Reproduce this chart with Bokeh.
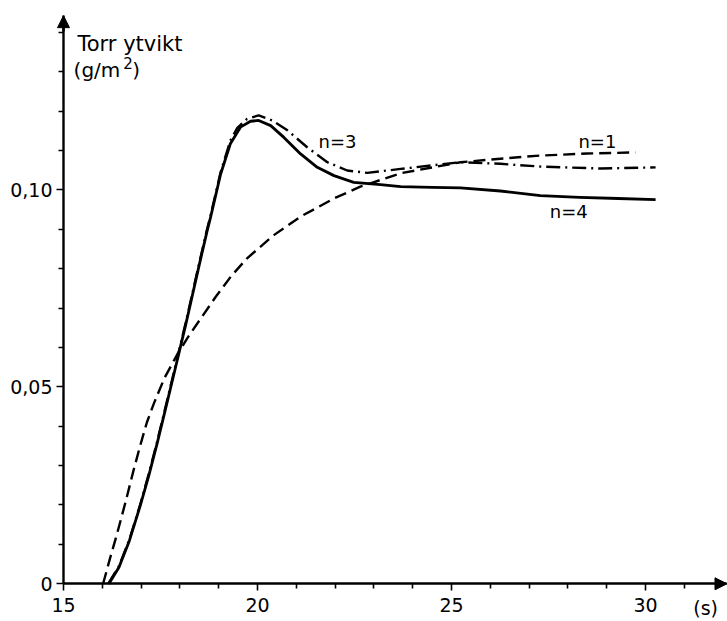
from bokeh.plotting import figure
from bokeh.models import Range1d, FixedTicker, Label, Arrow, NormalHead
from bokeh.embed import file_html
from bokeh.resources import INLINE

# ---- data ----
t_n1 = [16.02, 16.2, 16.38, 16.6, 16.8, 16.98, 17.15, 17.33, 17.6, 17.93, 18.2, 18.5,
        18.92, 19.33, 19.73, 20.42, 21.11, 21.97, 22.65, 23.69, 25.23, 26.26, 27.29,
        28.5, 29.74]
v_n1 = [0.0, 0.0065, 0.0127, 0.0208, 0.0286, 0.0352, 0.041, 0.0458, 0.0522, 0.0582,
        0.0625, 0.0668, 0.0728, 0.0782, 0.0826, 0.0885, 0.0932, 0.0978, 0.1008, 0.1042,
        0.107, 0.1079, 0.1087, 0.1092, 0.1095]

t_n3 = [16.15, 16.43, 16.7, 16.98, 17.2, 17.41, 17.62, 17.84, 17.99, 18.15, 18.3, 18.5,
        18.7, 18.79, 19.05, 19.3, 19.48, 19.73, 20.03, 20.38, 20.77, 21.28, 21.8, 22.31,
        22.83, 23.17, 23.69, 24.5, 25.23, 26.26, 27.29, 28.84, 30.26]
v_n3 = [0.0, 0.0045, 0.0113, 0.0202, 0.028, 0.036, 0.0445, 0.0535, 0.0597, 0.0663, 0.0728,
        0.0815, 0.09, 0.0935, 0.1045, 0.1125, 0.1157, 0.118, 0.1189, 0.1176, 0.1151, 0.1108,
        0.107, 0.1049, 0.1043, 0.1047, 0.1053, 0.1062, 0.107, 0.1066, 0.1059, 0.1054, 0.1057]

t_n4 = [16.17, 16.43, 16.7, 16.98, 17.2, 17.41, 17.62, 17.84, 17.99, 18.15, 18.3, 18.5,
        18.7, 18.79, 19.05, 19.3, 19.56, 19.82, 20.03, 20.34, 20.68, 21.11, 21.54, 21.97,
        22.48, 23.17, 23.69, 24.5, 25.23, 26.26, 27.29, 28.3, 29.3, 30.26]
v_n4 = [0.0, 0.0042, 0.011, 0.0199, 0.0275, 0.0355, 0.044, 0.053, 0.0592, 0.0658, 0.0723,
        0.081, 0.0895, 0.093, 0.104, 0.1117, 0.1159, 0.1174, 0.1176, 0.1163, 0.1133, 0.1091,
        0.1057, 0.1036, 0.1019, 0.1013, 0.1008, 0.1006, 0.1005, 0.0997, 0.0985, 0.0981,
        0.0978, 0.0975]

x_ticks = [15, 20, 25, 30]
x_tick_labels = ["15", "20", "25", "30"]
x_minor = [16, 17, 18, 19, 21, 22, 23, 24, 26, 27, 28, 29, 31]
y_ticks = [0.0, 0.05, 0.10]
y_tick_labels = ["0", "0,05", "0,10"]
y_minor = [0.01, 0.02, 0.03, 0.04, 0.06, 0.07, 0.08, 0.09, 0.11, 0.12, 0.13, 0.14]

curve_labels = ["n=1", "n=3", "n=4"]
label_pos_t = [28.76, 22.06, 28.02]
label_pos_v = [0.1122, 0.1122, 0.0945]

y_title = ["Torr ytvikt", "(g/m", "2", ")"]
x_unit = "(s)"

X_MIN, X_MAX = 15, 32.1
Y_MIN, Y_MAX = 0, 0.1442
FONT = "DejaVu Sans"

# view extends beyond the axes so that tick labels and unit text fit inside
p = figure(width=727, height=621, output_backend="svg", toolbar_location=None,
           x_range=Range1d(13.376, 32.113), y_range=Range1d(-0.00957, 0.14805),
           min_border=0, min_border_left=0, min_border_right=0,
           min_border_top=0, min_border_bottom=0)
p.outline_line_color = None
p.grid.visible = False
p.background_fill_color = "white"
p.border_fill_color = "white"

for ax in (p.xaxis[0], p.yaxis[0]):
    ax.axis_line_color = "black"
    ax.axis_line_width = 2.4
    ax.major_tick_line_color = "black"
    ax.major_tick_line_width = 1.6
    ax.minor_tick_line_color = "black"
    ax.minor_tick_line_width = 1.6
    ax.major_tick_in = 0
    ax.major_tick_out = 7
    ax.minor_tick_in = 0
    ax.minor_tick_out = 5
    ax.major_label_text_font = FONT
    ax.major_label_text_font_size = "19px"
    ax.major_label_text_color = "black"

p.xaxis[0].fixed_location = Y_MIN
p.xaxis[0].bounds = (X_MIN, X_MAX)
p.xaxis[0].ticker = FixedTicker(ticks=x_ticks, minor_ticks=x_minor)
p.xaxis[0].major_label_overrides = dict(zip(x_ticks, x_tick_labels))
p.xaxis[0].major_label_standoff = 7
p.yaxis[0].fixed_location = X_MIN
p.yaxis[0].bounds = (Y_MIN, Y_MAX)
p.yaxis[0].ticker = FixedTicker(ticks=y_ticks, minor_ticks=y_minor)
p.yaxis[0].major_label_overrides = dict(zip(y_ticks, y_tick_labels))
p.yaxis[0].major_label_standoff = 4

# arrow heads on the axes
p.add_layout(Arrow(end=NormalHead(size=12, fill_color="black", line_color="black"),
                   x_start=X_MIN, y_start=Y_MAX - 0.004, x_end=X_MIN, y_end=Y_MAX,
                   line_color="black", line_width=2.4))
p.add_layout(Arrow(end=NormalHead(size=12, fill_color="black", line_color="black"),
                   x_start=X_MAX - 0.3, y_start=Y_MIN, x_end=X_MAX, y_end=Y_MIN,
                   line_color="black", line_width=2.4))

# curves
p.line(t_n1, v_n1, line_color="black", line_width=2.4, line_dash="12 6")
p.line(t_n3, v_n3, line_color="black", line_width=2.4, line_dash="14 5 2 5")
p.line(t_n4, v_n4, line_color="black", line_width=2.8, line_join="round")

for txt, tx, ty in zip(curve_labels, label_pos_t, label_pos_v):
    p.add_layout(Label(x=tx, y=ty, text=txt, text_align="center", text_baseline="middle",
                       text_font=FONT, text_font_size="18px", text_color="black"))

p.add_layout(Label(x=15.36, y=0.1400, text=y_title[0], text_align="left", text_baseline="top",
                   text_font=FONT, text_font_size="21px", text_color="black"))
p.add_layout(Label(x=15.26, y=0.1335, text=y_title[1], text_align="left", text_baseline="top",
                   text_font=FONT, text_font_size="20px", text_color="black"))
p.add_layout(Label(x=16.54, y=0.1338, text=y_title[2], text_align="left", text_baseline="top",
                   text_font=FONT, text_font_size="15px", text_color="black"))
p.add_layout(Label(x=16.77, y=0.1335, text=y_title[3], text_align="left", text_baseline="top",
                   text_font=FONT, text_font_size="20px", text_color="black"))
p.add_layout(Label(x=31.55, y=-0.0062, text=x_unit, text_align="center",
                   text_baseline="middle", text_font=FONT, text_font_size="19px",
                   text_color="black"))

open("out.html", "w").write(file_html(p, INLINE))
